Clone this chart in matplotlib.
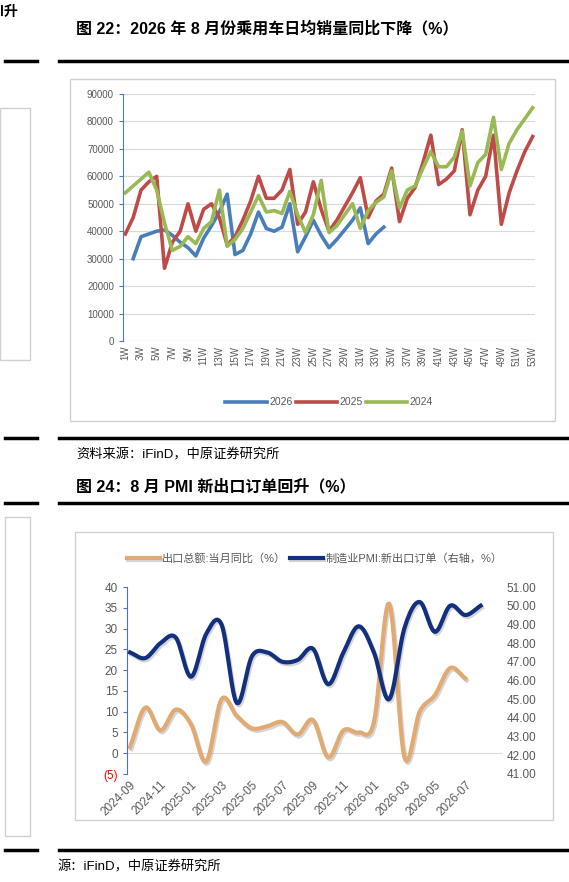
import numpy as np
import matplotlib
matplotlib.use("Agg")
import matplotlib.pyplot as plt
from matplotlib.patches import Rectangle
import matplotlib.patheffects as pe

plt.rcParams['font.family'] = ['Liberation Sans', 'Noto Sans CJK SC', 'DejaVu Sans']

W, H = 569, 882
weeks = [f"{i}W" for i in range(1, 54)]
s2025 = [39000,45000,55000,58000,60000,26500,36000,40000,50000,40000,48000,50000,45000,35000,38000,44000,51000,60000,52000,52000,55000,62500,42500,47000,58000,48000,40000,44000,49000,54000,59500,45000,51000,53500,63000,43500,52000,56000,65000,75000,57000,59000,62000,77000,46000,55000,60000,75000,42500,54000,62000,69000,74500]
s2024 = [54000,56500,59000,61500,55000,43000,33000,34500,38000,35500,41000,43500,55000,34500,37000,41000,47000,53000,47000,47500,46500,54500,46000,39500,46000,58500,39500,42000,46000,50000,41000,47500,50500,52500,62000,48500,55000,56500,63000,69000,63500,63500,67000,76500,56500,65000,68000,81500,62500,72000,77000,81000,85000]
s2026 = [np.nan,30000,38000,39000,40000,40500,38500,36000,34000,31000,37500,42000,47000,53500,31500,33000,39000,47000,41000,40000,41500,50000,32500,38000,44000,38500,34000,37000,40500,44000,48500,35500,39000,41500]

months = ["2024-09","2024-10","2024-11","2024-12","2025-01","2025-02","2025-03","2025-04","2025-05","2025-06","2025-07","2025-08",
          "2025-09","2025-10","2025-11","2025-12","2026-01","2026-02","2026-03","2026-04","2026-05","2026-06","2026-07","2026-08"]
export_yoy = [1.5,11,5.5,10.5,7,-2,13,9,6,6.5,7.5,4.5,8,-1,5.5,5,7.5,36,-1,10,14,20.5,18]
pmi_export = [47.5,47.2,48.0,48.3,46.2,48.5,49.0,44.8,47.3,47.5,47.0,47.1,47.7,45.8,47.5,48.9,47.5,45.0,48.8,50.2,48.6,50.0,49.5,50.0]

fig = plt.figure(figsize=(W/100, H/100), dpi=100)

def fx(x): return x / W
def fy(y): return 1 - y / H

def hline(y, x0, x1, lw=2.5):
    fig.add_artist(plt.Line2D([fx(x0), fx(x1)], [fy(y), fy(y)], color='black', lw=lw))

def box(x0, y0, x1, y1):
    fig.add_artist(Rectangle((fx(x0), fy(y1)), fx(x1) - fx(x0), fy(y0) - fy(y1),
                             fill=False, edgecolor='#d0d0d0', lw=1))

def txt(x, y, s, size, bold=False):
    fig.text(fx(x), fy(y), s, fontsize=size, fontweight='bold' if bold else 'normal', va='center', ha='left')

# page elements
txt(0, 12, "l升", 10, True)
txt(76, 28, "图 22：2026 年 8 月份乘用车日均销量同比下降（%）", 11.5, True)
for y in (61, 438, 503, 850):
    hline(y, 5, 37)
    hline(y, 59, 567)
box(0, 108, 30, 360)
box(5, 517, 30, 836)
box(70, 79, 555, 421)
box(75, 532, 553, 820)
txt(76, 455, "资料来源：iFinD，中原证券研究所", 9.5)
txt(76, 487, "图 24：8 月 PMI 新出口订单回升（%）", 11.5, True)
txt(58, 867, "源：iFinD，中原证券研究所", 9.5)

# top chart
ax = fig.add_axes([fx(123), fy(341), fx(535) - fx(123), fy(94) - fy(341)])
x = np.arange(53)
ax.plot(np.arange(len(s2026)), s2026, color='#4a7ebb', lw=2.6, label='2026')
ax.plot(x, s2025, color='#be4b48', lw=2.6, label='2025')
ax.plot(x, s2024, color='#98b954', lw=2.6, label='2024')
ax.set_ylim(0, 90000)
ax.set_yticks(range(0, 90001, 10000))
ax.set_xlim(-0.3, 52.3)
ax.set_xticks(x[::2])
ax.set_xticklabels(weeks[::2], rotation=90, fontsize=7, color='#595959')
ax.tick_params(axis='y', labelsize=7, labelcolor='#595959', color='#4a7ebb', length=3)
ax.tick_params(axis='x', length=0)
ax.grid(axis='y', color='#d9d9d9', lw=0.8)
for s in ('top', 'right', 'bottom'):
    ax.spines[s].set_visible(False)
ax.spines['left'].set_color('#4a7ebb')
ax.axhline(0, color='#d9d9d9', lw=0.8)
ax.legend(loc='upper center', bbox_to_anchor=(0.5, -0.19), ncol=3, frameon=False,
          fontsize=7.5, handlelength=4, columnspacing=0.3, handletextpad=0.2,
          labelcolor='#595959')

# bottom chart
def smooth(y, n=12):
    y = np.asarray(y, float)
    p = np.concatenate([[2*y[0]-y[1]], y, [2*y[-1]-y[-2]]])
    xs, ys = [], []
    for i in range(1, len(p) - 2):
        t = np.linspace(0, 1, n, endpoint=False)
        p0, p1, p2, p3 = p[i-1], p[i], p[i+1], p[i+2]
        v = 0.5*((2*p1) + (-p0+p2)*t + (2*p0-5*p1+4*p2-p3)*t**2 + (-p0+3*p1-3*p2+p3)*t**3)
        xs.append(i - 1 + t); ys.append(v)
    xs.append([len(y) - 1]); ys.append([y[-1]])
    return np.concatenate(xs), np.concatenate(ys)

ax2 = fig.add_axes([fx(127), fy(774), fx(502) - fx(127), fy(587) - fy(774)])
ax3 = ax2.twinx()
shadow = [pe.SimpleLineShadow(offset=(1, -1.5), shadow_color='#888888', alpha=0.35), pe.Normal()]
xs, ys = smooth(export_yoy)
l1, = ax2.plot(xs, ys, color='#e0aa72', lw=3, path_effects=shadow, label='出口总额:当月同比（%）')
xs, ys = smooth(pmi_export)
l2, = ax3.plot(xs, ys, color='#13307f', lw=3, path_effects=shadow, label='制造业PMI:新出口订单（右轴，%）')
ax2.set_ylim(-5, 40)
ax2.set_yticks(range(-5, 41, 5))
ax2.set_yticklabels(['(5)'] + [str(v) for v in range(0, 41, 5)])
ax3.set_ylim(41, 51)
ax3.set_yticks(range(41, 52))
ax3.set_yticklabels([f"{v:.2f}" for v in range(41, 52)])
ax2.set_xlim(0 - 0.2, 24.4)
ax2.set_xticks(range(0, 24, 2))
ax2.set_xticklabels(months[::2], rotation=45, ha='right', rotation_mode='anchor', fontsize=8.5, color='#595959')
ax2.tick_params(axis='y', labelsize=8.5, labelcolor='#595959', color='#4a6ee0', length=3)
ax2.get_yticklabels()[0].set_color('red')
ax3.tick_params(axis='y', labelsize=8.5, labelcolor='#595959', length=0)
ax2.tick_params(axis='x', length=0)
ax2.axhline(0, color='#d9d9d9', lw=0.8, zorder=0)
for a in (ax2, ax3):
    for s in ('top', 'right', 'bottom'):
        a.spines[s].set_visible(False)
    a.spines['left'].set_visible(a is ax2)
ax2.spines['left'].set_color('#4a6ee0')
ax2.legend([l1, l2], [l1.get_label(), l2.get_label()], loc='lower center', bbox_to_anchor=(0.5, 1.07),
           ncol=2, frameon=False, fontsize=8, handlelength=3, columnspacing=0.3, handletextpad=0.2,
           labelcolor='#595959')

fig.savefig('out.png', dpi=100)
